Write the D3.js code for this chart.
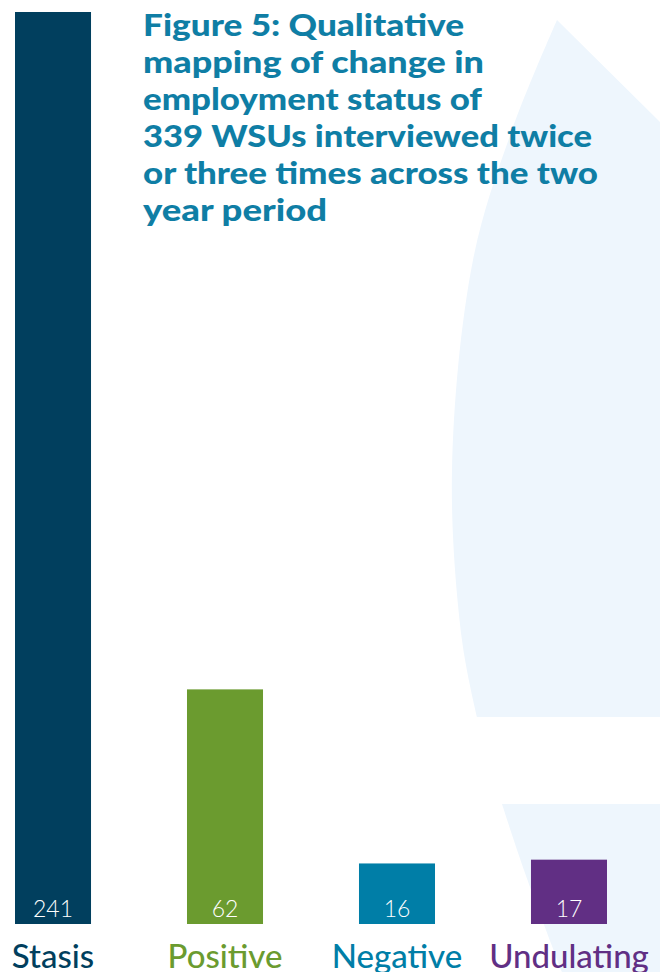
<!DOCTYPE html>
<html>
<head>
<meta charset="utf-8">
<script src="https://cdn.jsdelivr.net/npm/d3@7"></script>
<style>
  body { margin: 0; background: #fff; }
  svg { display: block; }
</style>
</head>
<body>
<div id="chart"></div>
<script>
const categories = ["Stasis", "Positive", "Negative", "Undulating"]
const counts = [241, 62, 16, 17]
const colors = ["#013f5e", "#6b9b2f", "#007ea7", "#612f84"]
const titleLines = [
  "Figure 5: Qualitative",
  "mapping of change in",
  "employment status of",
  "339 WSUs interviewed twice",
  "or three times across the two",
  "year period"
]
// measured widths of the title lines in the reference
const titleWidths = [321, 341, 339, 449, 455, 184]

let width = 660
let height = 972

let svg = d3.select("#chart").append("svg")
    .attr("width", width)
    .attr("height", height)

// light blue backdrop shape
let edgeTop = [[477, 717], [462, 640], [452, 470], [473, 260], [512, 130], [557, 20]]
let edgeBottom = [[502, 804], [525, 873], [562, 972]]
let curve = d3.line().curve(d3.curveCatmullRom)

svg.append("path")
    .attr("d", curve(edgeTop) + "L660,122L660,717Z")
    .attr("fill", "#eef6fd")
svg.append("path")
    .attr("d", curve(edgeBottom) + "L660,972L660,804Z")
    .attr("fill", "#eef6fd")

let xScale = d3.scaleBand()
    .domain(categories)
    .range([15, 607])
    .paddingInner(0.558)
    .paddingOuter(0)

let yScale = d3.scaleLinear()
    .domain([0, 241])
    .range([924, 12])

let data = categories.map((c, i) => ({cat: c, value: counts[i], color: colors[i]}))

let bars = svg.append("g").attr("class", "bars")
bars.selectAll("rect")
    .data(data)
    .join("rect")
    .attr("x", d => xScale(d.cat))
    .attr("y", d => yScale(d.value))
    .attr("width", xScale.bandwidth())
    .attr("height", d => yScale(0) - yScale(d.value))
    .attr("fill", d => d.color)

bars.selectAll("text.value")
    .data(data)
    .join("text")
    .attr("class", "value")
    .attr("x", d => xScale(d.cat) + xScale.bandwidth() / 2)
    .attr("y", yScale(0) - 7)
    .attr("text-anchor", "middle")
    .attr("fill", "#fff")
    .style("font-family", "Lato")
    .style("font-weight", 300)
    .style("font-size", "23px")
    .text(d => d.value)

svg.append("g").attr("class", "labels")
    .selectAll("text")
    .data(data)
    .join("text")
    .attr("x", d => xScale(d.cat) + xScale.bandwidth() / 2)
    .attr("y", 968)
    .attr("text-anchor", "middle")
    .attr("fill", d => d.color)
    .style("font-family", "Lato")
    .style("font-weight", 500)
    .style("font-size", "33px")
    .text(d => d.cat)

let title = svg.append("g").attr("class", "title")
title.selectAll("text")
    .data(titleLines)
    .join("text")
    .attr("x", 143)
    .attr("y", (d, i) => 36 + i * 37)
    .attr("fill", "#0f7ea5")
    .attr("textLength", (d, i) => titleWidths[i])
    .attr("lengthAdjust", "spacingAndGlyphs")
    .style("font-family", "Lato")
    .style("font-weight", 900)
    .style("font-size", "31px")
    .text(d => d)
</script>
</body>
</html>
